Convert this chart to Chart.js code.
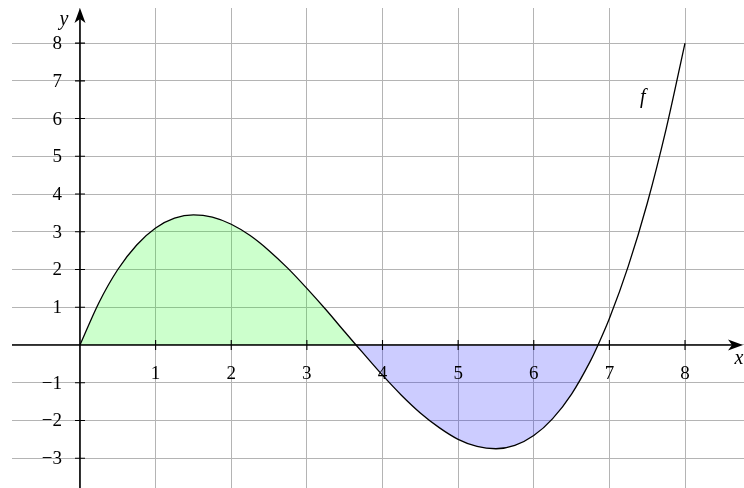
<!DOCTYPE html>
<html>
<head>
<meta charset="utf-8">
<script src="https://cdn.jsdelivr.net/npm/chart.js@4/dist/chart.umd.min.js"></script>
<style>
  html, body { margin: 0; padding: 0; background: #ffffff; }
  #wrap { width: 744px; height: 488px; }
</style>
</head>
<body>
<div id="wrap"><canvas id="c" width="744" height="488"></canvas></div>
<script>
// ---- data ----
const xValues = [0, 0.25, 0.5, 0.75, 1, 1.25, 1.5, 1.75, 2, 2.25, 2.5, 2.75, 3, 3.25, 3.5, 3.65, 3.75,
  4, 4.25, 4.5, 4.75, 5, 5.25, 5.5, 5.75, 6, 6.25, 6.5, 6.75, 6.85, 7, 7.25, 7.5, 7.75, 8];
const fValues = [0, 1.12, 2.00, 2.65, 3.10, 3.36, 3.45, 3.39, 3.20, 2.90, 2.50, 2.03, 1.50, 0.94, 0.35, 0, -0.23,
  -0.80, -1.33, -1.80, -2.19, -2.50, -2.69, -2.75, -2.66, -2.40, -1.95, -1.30, -0.42, 0, 0.70, 2.09, 3.75, 5.72, 8.00];
const shadedUntil = 6.85;           // shaded area between f and the x-axis, from 0 to this root
const xTickValues = [1, 2, 3, 4, 5, 6, 7, 8];
const xTickLabels = ['1', '2', '3', '4', '5', '6', '7', '8'];
const yTickValues = [-3, -2, -1, 1, 2, 3, 4, 5, 6, 7, 8];
const yTickLabels = ['\u22123', '\u22122', '\u22121', '1', '2', '3', '4', '5', '6', '7', '8'];
const curveLabel = { text: 'f', x: 7.44, y: 6.55 };
const xAxisName = 'x';
const yAxisName = 'y';

const curvePoints = xValues.map((x, i) => ({ x: x, y: fValues[i] }));
const shadePoints = curvePoints.filter(p => p.x <= shadedUntil);

const SERIF = '"Liberation Serif", "DejaVu Serif", serif';

const axesPlugin = {
  id: 'axesPlugin',
  afterDatasetsDraw(chart) {
    const ctx = chart.ctx;
    const xs = chart.scales.x, ys = chart.scales.y;
    const x0 = xs.getPixelForValue(0), y0 = ys.getPixelForValue(0);
    const xEnd = xs.getPixelForValue(xs.max) - 1;
    const xStart = xs.getPixelForValue(xs.min);
    const yTop = ys.getPixelForValue(ys.max);
    const yBot = ys.getPixelForValue(ys.min);
    ctx.save();
    ctx.strokeStyle = '#000';
    ctx.fillStyle = '#000';
    ctx.lineWidth = 1.6;
    // x axis
    ctx.beginPath(); ctx.moveTo(xStart, y0); ctx.lineTo(xEnd - 8, y0); ctx.stroke();
    // y axis
    ctx.beginPath(); ctx.moveTo(x0, yBot); ctx.lineTo(x0, yTop + 8); ctx.stroke();
    // arrowheads
    ctx.beginPath();
    ctx.moveTo(xEnd, y0); ctx.lineTo(xEnd - 15, y0 - 5.5); ctx.lineTo(xEnd - 11, y0); ctx.lineTo(xEnd - 15, y0 + 5.5); ctx.closePath();
    ctx.fill();
    ctx.beginPath();
    ctx.moveTo(x0, yTop); ctx.lineTo(x0 - 5.5, yTop + 15); ctx.lineTo(x0, yTop + 11); ctx.lineTo(x0 + 5.5, yTop + 15); ctx.closePath();
    ctx.fill();
    // tick marks
    ctx.lineWidth = 1.1;
    ctx.beginPath();
    xTickValues.forEach(v => { const px = xs.getPixelForValue(v); ctx.moveTo(px, y0 - 5); ctx.lineTo(px, y0 + 5); });
    yTickValues.forEach(v => { const py = ys.getPixelForValue(v); ctx.moveTo(x0 - 5, py); ctx.lineTo(x0 + 5, py); });
    ctx.stroke();
    // tick labels
    ctx.font = '19px ' + SERIF;
    ctx.textAlign = 'center'; ctx.textBaseline = 'middle';
    xTickValues.forEach((v, i) => ctx.fillText(xTickLabels[i], xs.getPixelForValue(v), y0 + 29));
    ctx.textAlign = 'right';
    yTickValues.forEach((v, i) => ctx.fillText(yTickLabels[i], x0 - 18, ys.getPixelForValue(v) + 1));
    // axis names and curve name
    ctx.font = 'italic 20px ' + SERIF;
    ctx.textAlign = 'center';
    ctx.fillText(xAxisName, xEnd - 4, y0 + 14);
    ctx.fillText(yAxisName, x0 - 16, yTop + 12);
    ctx.fillText(curveLabel.text, xs.getPixelForValue(curveLabel.x), ys.getPixelForValue(curveLabel.y));
    ctx.restore();
  }
};

new Chart(document.getElementById('c'), {
  type: 'line',
  data: {
    datasets: [
      {
        label: 'f',
        data: curvePoints,
        borderColor: '#000000',
        borderWidth: 1.3,
        pointRadius: 0,
        fill: false,
        cubicInterpolationMode: 'monotone'
      },
      {
        label: 'area',
        data: shadePoints,
        borderWidth: 0,
        borderColor: 'rgba(0,0,0,0)',
        pointRadius: 0,
        cubicInterpolationMode: 'monotone',
        fill: { target: 'origin', above: 'rgba(0,255,0,0.2)', below: 'rgba(0,0,255,0.2)' }
      }
    ]
  },
  options: {
    responsive: false,
    animation: false,
    events: [],
    layout: { padding: { left: 12, top: 8, right: 0, bottom: 0 } },
    plugins: { legend: { display: false }, tooltip: { enabled: false } },
    scales: {
      x: {
        type: 'linear',
        min: -0.899, max: 8.78,
        border: { display: false },
        ticks: { display: false, stepSize: 1, includeBounds: false },
        grid: { color: '#b4b4b4', lineWidth: 1, drawTicks: false }
      },
      y: {
        type: 'linear',
        min: -3.79, max: 8.93,
        border: { display: false },
        ticks: { display: false, stepSize: 1, includeBounds: false },
        grid: { color: '#b4b4b4', lineWidth: 1, drawTicks: false }
      }
    }
  },
  plugins: [axesPlugin]
});
</script>
</body>
</html>
